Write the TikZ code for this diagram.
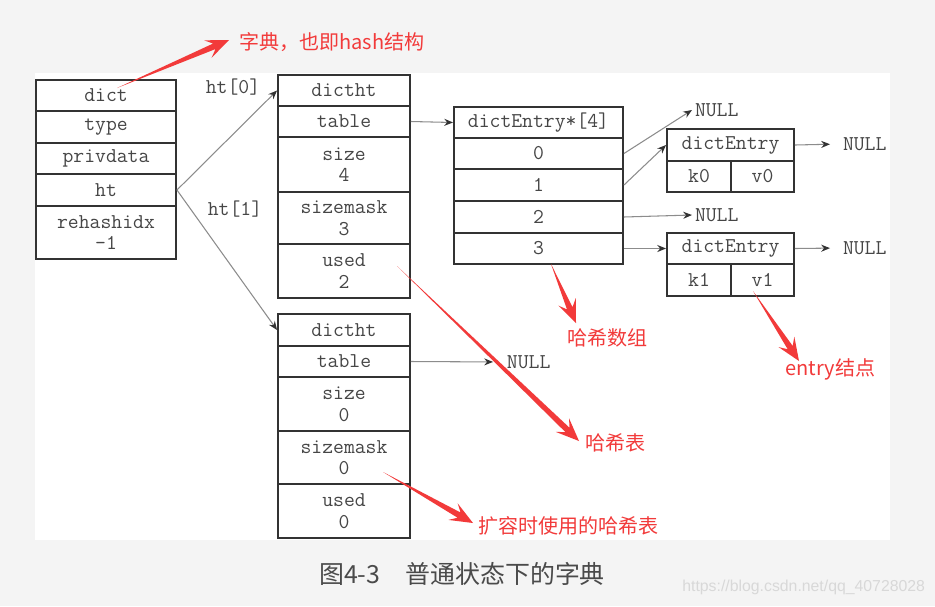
\documentclass[tikz,border=0pt]{standalone}
\usepackage{fontspec}
\newfontfamily\cjk{Noto Sans CJK SC}
\newfontfamily\wmfont{Liberation Sans}
\usetikzlibrary{arrows.meta,calc}

\definecolor{notered}{RGB}{242,58,58}
\definecolor{pagegrey}{RGB}{244,244,244}
\definecolor{inkgrey}{RGB}{70,70,70}
\definecolor{capgrey}{RGB}{74,74,74}
\definecolor{wmgrey}{RGB}{216,216,216}

\newcommand{\cellfont}{\ttfamily\fontsize{12}{12.3}\selectfont}
\newcommand{\notefont}{\cjk\fontsize{11.4}{13}\selectfont}

%% tapered red pointer from #1 (tail) to #2 (tip)
\newcommand{\notearrow}[2]{%
  \path (#2) coordinate (na tip)
        ($(#2)!0.32cm!(#1)$) coordinate (na base)
        ($(#2)!0.46cm!(#1)$) coordinate (na barb);
  \fill[notered] (#1) -- ($(na base)!0.06cm!90:(na tip)$)
     -- ($(na barb)!0.19cm!90:(na tip)$) -- (na tip)
     -- ($(na barb)!0.19cm!-90:(na tip)$)
     -- ($(na base)!0.06cm!-90:(na tip)$) -- cycle;}

\begin{document}
\begin{tikzpicture}[x=0.02cm, y=-0.02cm]
%% the picture is laid out in pixel units of the 935x606 screenshot
\tikzstyle{cell}=[draw=black!80, line width=1.1pt, rectangle, inner sep=0pt, text=inkgrey, font=\cellfont, align=center]
\tikzstyle{dictcell}=[cell, minimum width=2.8cm]
\tikzstyle{htcell}=[cell, minimum width=2.64cm]
\tikzstyle{arrcell}=[cell, minimum width=3.38cm]
\tikzstyle{entcell}=[cell, minimum width=2.54cm]
\tikzstyle{null}=[font=\cellfont, text=inkgrey, inner sep=1.5pt, anchor=west]
\tikzstyle{label}=[font=\cellfont, text=inkgrey, inner sep=0pt]
\tikzstyle{arc}=[draw=black!45, line width=0.6pt, -{Stealth[length=5pt, width=4pt, color=black!80]}]
\tikzstyle{note}=[font=\notefont, text=notered, inner sep=0pt, anchor=west]
%% page and white panel
\useasboundingbox (0,0) rectangle (935,606);
\fill[pagegrey] (0,0) rectangle (935,606);
\fill[white] (35,73) rectangle (890,540);
%% dict
\node[dictcell, minimum height=0.62cm] at (106,95.5) (dict) {dict};
\node[dictcell, minimum height=0.64cm] at (106,127) (type) {type};
\node[dictcell, minimum height=0.62cm] at (106,158.5) (privdata) {privdata};
\node[dictcell, minimum height=0.64cm] at (106,190) (ht) {ht};
\node[dictcell, minimum height=1.06cm] at (106,232.5) (rehashidx) {rehashidx\\-1};
%% dictht ht[0]
\node[htcell, minimum height=0.62cm] at (344,90.5) (ht0) {dictht};
\node[htcell, minimum height=0.62cm] at (344,121.5) (table0) {table};
\node[htcell, minimum height=1.10cm] at (344,164.5) (size0) {size\\4};
\node[htcell, minimum height=1.04cm] at (344,218) (sizemask0) {sizemask\\3};
\node[htcell, minimum height=1.08cm] at (344,271) (used0) {used\\2};
%% dictht ht[1]
\node[htcell, minimum height=0.64cm] at (344,330) (ht1) {dictht};
\node[htcell, minimum height=0.62cm] at (344,361.5) (table1) {table};
\node[htcell, minimum height=1.08cm] at (344,404) (size1) {size\\0};
\node[htcell, minimum height=1.06cm] at (344,457.5) (sizemask1) {sizemask\\0};
\node[htcell, minimum height=1.08cm] at (344,511) (used1) {used\\0};
%% label for the two links
\node[label] at (233,87) (htlabel0) {ht[0]};
\node[label] at (235,209) (htlabel1) {ht[1]};
%% bucket array
\node[arrcell, minimum height=0.62cm] at (538.5,122.5) (arr) {dictEntry*[4]};
\node[arrcell, minimum height=0.62cm] at (538.5,153.5) (row0) {0};
\node[arrcell, minimum height=0.64cm] at (538.5,185) (row1) {1};
\node[arrcell, minimum height=0.64cm] at (538.5,217) (row2) {2};
\node[arrcell, minimum height=0.62cm] at (538.5,248.5) (row3) {3};
%% entries
\node[entcell, minimum height=0.64cm] at (730.5,145) (ent0) {dictEntry};
\node[cell, minimum width=1.28cm, minimum height=0.62cm] at (699,176.5) (k0) {k0};
\node[cell, minimum width=1.26cm, minimum height=0.62cm] at (762.5,176.5) (v0) {v0};
\node[entcell, minimum height=0.62cm] at (730.5,248.5) (ent1) {dictEntry};
\node[cell, minimum width=1.28cm, minimum height=0.64cm] at (699,280) (k1) {k1};
\node[cell, minimum width=1.26cm, minimum height=0.64cm] at (762.5,280) (v1) {v1};
%% NULL ends
\node[null] at (692,110) (null0) {NULL};
\node[null] at (692,215) (null2) {NULL};
\node[null] at (840,144) (nulle0) {NULL};
\node[null] at (840,248) (nulle1) {NULL};
\node[null] at (504,362) (nullt) {NULL};
%% links
\draw[arc] (ht.east) -- (ht0.west);
\draw[arc] (ht.east) -- (ht1.west);
\draw[arc] (table0.east) -- (arr.west);
\draw[arc] (row0.east) -- (null0.west);
\draw[arc] (row1.east) -- (ent0.west);
\draw[arc] (row2.east) -- (null2.west);
\draw[arc] (row3.east) -- (ent1.west);
\draw[arc, shorten >=0.2cm] (ent0.east) -- (nulle0.west);
\draw[arc, shorten >=0.2cm] (ent1.east) -- (nulle1.west);
\draw[arc, shorten >=0.22cm] (table1.east) -- (nullt.west);
%% red notes
\node[note] at (239,42) (noteDict) {字典，也即hash结构};
\node[note] at (567,338) (noteArr) {哈希数组};
\node[note] at (585,443) (noteTable) {哈希表};
\node[note] at (785,369) (noteEntry) {entry结点};
\node[note] at (478,526) (noteRehash) {扩容时使用的哈希表};
\coordinate (dictTail) at (117,88);   \coordinate (dictTip) at (229,40);
\coordinate (arrTail) at (551,264);   \coordinate (arrTip) at (576,323);
\coordinate (tableTail) at (397,266); \coordinate (tableTip) at (579,441);
\coordinate (entryTail) at (753,291); \coordinate (entryTip) at (799,361);
\coordinate (rehashTail) at (383,472); \coordinate (rehashTip) at (473,523);
\notearrow{dictTail}{dictTip}
\notearrow{arrTail}{arrTip}
\notearrow{tableTail}{tableTip}
\notearrow{entryTail}{entryTip}
\notearrow{rehashTail}{rehashTip}
%% caption and watermark
\node[font=\cjk\fontsize{14.2}{16}\selectfont, text=capgrey, inner sep=0pt] at (462,574) (caption) {图4-3　普通状态下的字典};
\node[font=\wmfont\fontsize{9}{10}\selectfont, text=wmgrey, inner sep=0pt, anchor=west] at (682,587) (watermark) {https://blog.csdn.net/qq\_40728028};
\end{tikzpicture}
\end{document}
